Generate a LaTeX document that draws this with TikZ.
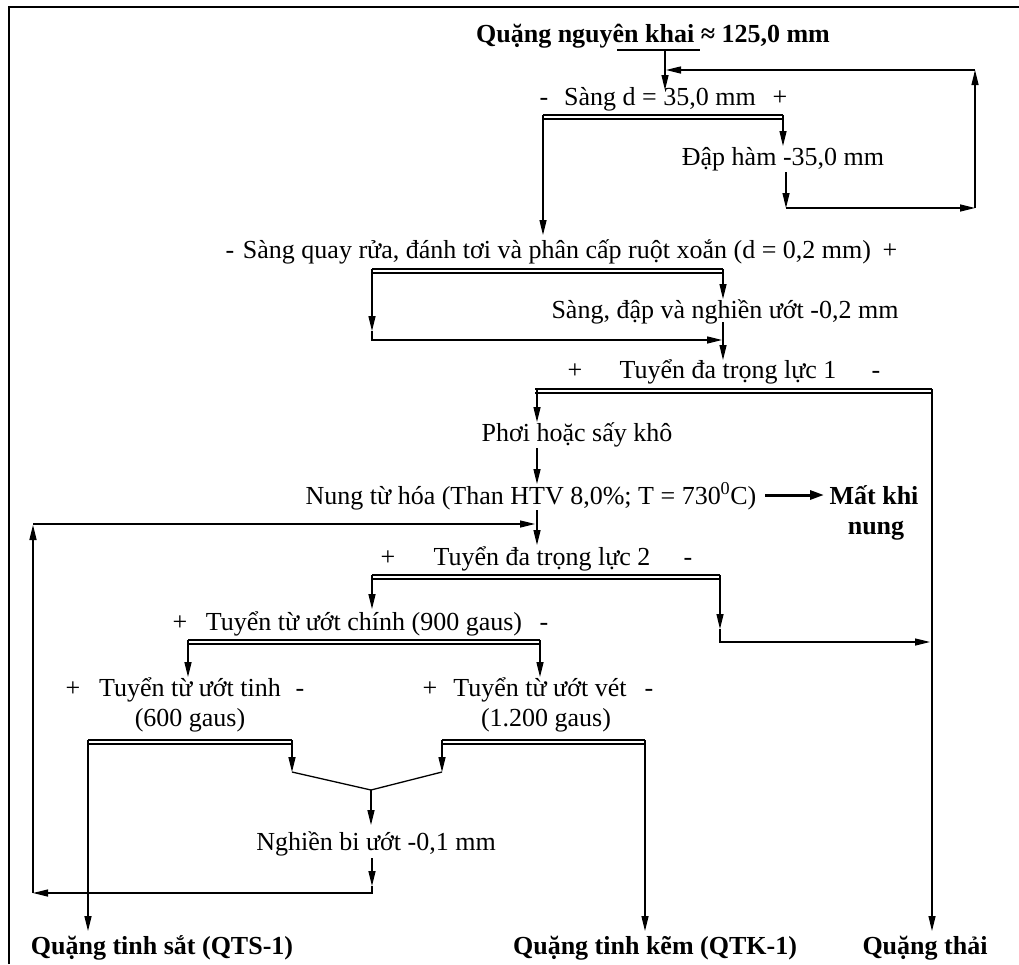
\documentclass[tikz,border=0pt]{standalone}
\usepackage{fontspec}
\setmainfont{Liberation Serif}
\usetikzlibrary{arrows.meta}
\newcommand\myfs{\fontsize{26}{30}\selectfont}
\tikzset{
  lbl/.style={anchor=base, inner sep=0pt, font=\myfs},
  blbl/.style={anchor=base, inner sep=0pt, font=\myfs\bfseries},
  ln/.style={line width=1.3pt},
  arr/.style={line width=1.3pt, -{Triangle[length=15pt,width=7pt]}},
  thickarr/.style={line width=3pt, -{Triangle[length=14pt,width=9pt]}},
  barT/.style={line width=2.4pt},
  barB/.style={line width=1.7pt},
}
\begin{document}
\begin{tikzpicture}[x=1pt,y=-1pt]
\useasboundingbox (0,0) rectangle (1019,964);
\draw[line width=1.4pt] (9,964) -- (9,7) -- (1019,7);

% ---------- texts ----------
\node[blbl] (t0) at (653,42) {Quặng nguyên khai ≈ 125,0 mm};

\node[lbl] (s1m) at (544,105) {-};
\node[lbl] (s1) at (660,105) {Sàng d = 35,0 mm};
\node[lbl] (s1p) at (780,105) {+};

\node[lbl] (dh) at (783,165) {Đập hàm -35,0 mm};

\node[lbl] (s2m) at (230,258) {-};
\node[lbl] (s2) at (557,258) {Sàng quay rửa, đánh tơi và phân cấp ruột xoắn (d = 0,2 mm)};
\node[lbl] (s2p) at (890,258) {+};

\node[lbl] (sd) at (725,318) {Sàng, đập và nghiền ướt -0,2 mm};

\node[lbl] (g1p) at (575,378) {+};
\node[lbl] (g1) at (728,378) {Tuyển đa trọng lực 1};
\node[lbl] (g1m) at (876,378) {-};

\node[lbl] (ph) at (577,441) {Phơi hoặc sấy khô};

\node[lbl] (nu) at (531,504) {Nung từ hóa (Than HTV 8,0\%; T = 730\textsuperscript{0}C)};
\node[blbl] (mk1) at (874,504) {Mất khi};
\node[blbl] (mk2) at (876,534) {nung};

\node[lbl] (g2p) at (388,565) {+};
\node[lbl] (g2) at (542,565) {Tuyển đa trọng lực 2};
\node[lbl] (g2m) at (688,565) {-};

\node[lbl] (cp) at (180,630) {+};
\node[lbl] (c) at (364,630) {Tuyển từ ướt chính (900 gaus)};
\node[lbl] (cm) at (544,630) {-};

\node[lbl] (tp) at (73,696) {+};
\node[lbl] (t) at (190,696) {Tuyển từ ướt tinh};
\node[lbl] (tm) at (300,696) {-};
\node[lbl] (t2) at (190,726) {(600 gaus)};

\node[lbl] (vp) at (430,696) {+};
\node[lbl] (v) at (540,696) {Tuyển từ ướt vét};
\node[lbl] (vm) at (649,696) {-};
\node[lbl] (v2) at (546,726) {(1.200 gaus)};

\node[lbl] (nb) at (376,850) {Nghiền bi ướt -0,1 mm};

\node[blbl] (qts) at (162,954) {Quặng tinh sắt (QTS-1)};
\node[blbl] (qtk) at (655,954) {Quặng tinh kẽm (QTK-1)};
\node[blbl] (qt) at (925,954) {Quặng thải};

% ---------- coordinates ----------
\coordinate (fa) at (617,50); \coordinate (fb) at (700,50);
\coordinate (f0) at (665,50); \coordinate (f1) at (665,90);
\coordinate (b1l) at (543,115); \coordinate (b1r) at (783,115);
\coordinate (b1lt) at (543,235); \coordinate (b1rt) at (783,146);
\coordinate (r0) at (786,172); \coordinate (r1) at (786,208);
\coordinate (r2) at (975,208); \coordinate (r3) at (975,70);
\coordinate (r4) at (666,70);
\coordinate (b2l) at (372,269); \coordinate (b2r) at (723,269);
\coordinate (b2la) at (372,331); \coordinate (b2lc) at (372,340);
\coordinate (b2ld) at (722,340);
\coordinate (b2rt) at (723,299);
\coordinate (sd0) at (723,322); \coordinate (sd1) at (723,360);
\coordinate (b3l) at (535,389); \coordinate (b3r) at (932,389);
\coordinate (b3lx) at (537,389); \coordinate (b3lt) at (537,422);
\coordinate (b3rt) at (932,931);
\coordinate (ph0) at (537,448); \coordinate (ph1) at (537,484);
\coordinate (nu0) at (765,495); \coordinate (nu1) at (824,495);
\coordinate (nu2) at (537,510); \coordinate (nu3) at (537,545);
\coordinate (b4l) at (372,575); \coordinate (b4r) at (720,575);
\coordinate (b4lt) at (372,609);
\coordinate (b4ra) at (720,629); \coordinate (b4rc) at (720,642);
\coordinate (b4rd) at (930,642);
\coordinate (b5l) at (188,640); \coordinate (b5r) at (540,640);
\coordinate (b5lt) at (188,677); \coordinate (b5rt) at (540,677);
\coordinate (b6l) at (88,740); \coordinate (b6r) at (292,740);
\coordinate (b7l) at (442,740); \coordinate (b7r) at (645,740);
\coordinate (b6lt) at (88,931); \coordinate (b6rt) at (292,772);
\coordinate (b7lt) at (442,772); \coordinate (b7rt) at (645,931);
\coordinate (m0) at (371,790); \coordinate (m1) at (371,825);
\coordinate (n0) at (372,858); \coordinate (n1) at (372,886);
\coordinate (n2) at (372,893); \coordinate (n3) at (33,893);
\coordinate (n4) at (33,525); \coordinate (n5) at (33,524);
\coordinate (n6) at (535,524);

% ---------- bars (screens) ----------
\draw[line width=2.2pt] (fa) -- (fb);
\foreach \a/\b in {b1l/b1r, b2l/b2r, b3l/b3r, b4l/b4r, b5l/b5r, b6l/b6r, b7l/b7r}{
  \draw[barT] (\a) -- (\b);
  \draw[barB] ([yshift=-4pt]\a) -- ([yshift=-4pt]\b);
}

% ---------- connectors ----------
\draw[arr] (f0) -- (f1);
\draw[arr] (b1l) -- (b1lt);
\draw[arr] (b1r) -- (b1rt);
\draw[arr] (r0) -- (r1);
\draw[arr] (r1) -- (r2);
\draw[arr] (r2) -- (r3);
\draw[arr] (r3) -- (r4);

\draw[arr] (b2l) -- (b2la);
\draw[arr] (b2la) -- (b2lc) -- (b2ld);
\draw[arr] (b2r) -- (b2rt);
\draw[arr] (sd0) -- (sd1);

\draw[arr] (b3lx) -- (b3lt);
\draw[arr] (b3r) -- (b3rt);
\draw[arr] (ph0) -- (ph1);
\draw[thickarr] (nu0) -- (nu1);
\draw[arr] (nu2) -- (nu3);

\draw[arr] (b4l) -- (b4lt);
\draw[arr] (b4r) -- (b4ra);
\draw[arr] (b4ra) -- (b4rc) -- (b4rd);
\draw[arr] (b5l) -- (b5lt);
\draw[arr] (b5r) -- (b5rt);

\draw[arr] (b6l) -- (b6lt);
\draw[arr] (b6r) -- (b6rt);
\draw[ln] (b6rt) -- (m0);
\draw[arr] (b7l) -- (b7lt);
\draw[ln] (b7lt) -- (m0);
\draw[arr] (b7r) -- (b7rt);
\draw[arr] (m0) -- (m1);

\draw[arr] (n0) -- (n1);
\draw[arr] (n1) -- (n2) -- (n3);
\draw[arr] (n3) -- (n4);
\draw[arr] (n5) -- (n6);
\end{tikzpicture}
\end{document}
